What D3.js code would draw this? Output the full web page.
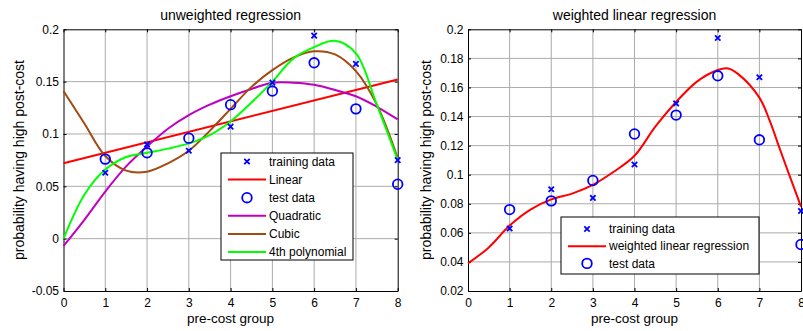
<!DOCTYPE html>
<html>
<head>
<meta charset="utf-8">
<script src="https://cdn.jsdelivr.net/npm/d3@7"></script>
<style>
  body { margin: 0; background: #fff; }
  text { font-family: "Liberation Sans", Arial, sans-serif; fill: #000; }
</style>
</head>
<body>
<svg id="chart" width="803" height="331"></svg>
<script>
// observed probabilities per pre-cost group
const groups = [1, 2, 3, 4, 5, 6, 7, 8];
const trainY = [0.063, 0.090, 0.084, 0.107, 0.149, 0.194, 0.167, 0.075];
const testY  = [0.076, 0.082, 0.096, 0.128, 0.141, 0.168, 0.124, 0.052];

// fitted curves
const fitX   = [0, 0.5, 1, 1.5, 2, 2.5, 3, 3.5, 4, 4.5, 5, 5.5, 6, 6.5, 7, 7.5, 8];
const linX   = [0, 8];
const linY   = [0.072, 0.152];
const quadY  = [-0.007, 0.018, 0.045, 0.069, 0.088, 0.105, 0.118, 0.128, 0.136, 0.143, 0.149, 0.149, 0.147, 0.142, 0.136, 0.126, 0.114];
const cubicY = [0.141, 0.110, 0.079, 0.065, 0.064, 0.072, 0.084, 0.103, 0.124, 0.145, 0.161, 0.173, 0.179, 0.176, 0.160, 0.128, 0.077];
const quartY = [0.000, 0.042, 0.066, 0.078, 0.082, 0.086, 0.091, 0.099, 0.112, 0.130, 0.150, 0.172, 0.183, 0.189, 0.177, 0.128, 0.075];

// weighted linear regression curve (right panel)
const wX = [0, 0.5, 1, 1.5, 2, 2.5, 3, 3.5, 4, 4.5, 5, 5.5, 6, 6.25, 6.5, 7, 7.25, 7.5, 8];
const wY = [0.039, 0.050, 0.065, 0.076, 0.083, 0.087, 0.093, 0.102, 0.113, 0.133, 0.150, 0.164, 0.172, 0.173, 0.169, 0.153, 0.137, 0.117, 0.078];

// ticks
const xTicks = [0, 1, 2, 3, 4, 5, 6, 7, 8];
const yTicksL = [-0.05, 0, 0.05, 0.1, 0.15, 0.2];
const yTicksR = [0.02, 0.04, 0.06, 0.08, 0.1, 0.12, 0.14, 0.16, 0.18, 0.2];

const BLUE = "#0000ff";
const plotTop = 29.3, plotBottom = 291;
const svg = d3.select("#chart");
const fmt = d => String(+d.toFixed(2));

function drawPanel(o) {
  const g = svg.append("g");
  const x = d3.scaleLinear().domain([0, 8]).range([o.left, o.right]);
  const y = d3.scaleLinear().domain([o.yTicks[0], o.yTicks[o.yTicks.length - 1]]).range([plotBottom, plotTop]);

  // grid
  g.append("g").selectAll("line").data(xTicks.slice(1, -1)).enter().append("line")
    .attr("x1", d => x(d)).attr("x2", d => x(d)).attr("y1", plotTop).attr("y2", plotBottom)
    .attr("stroke", "#ababab").attr("stroke-width", 1);
  g.append("g").selectAll("line").data(o.yTicks.slice(1, -1)).enter().append("line")
    .attr("x1", o.left).attr("x2", o.right).attr("y1", d => y(d)).attr("y2", d => y(d))
    .attr("stroke", "#ababab").attr("stroke-width", 1);

  // axes (inner ticks on all four sides)
  const ax = [
    g.append("g").attr("transform", `translate(0,${plotBottom})`)
      .call(d3.axisBottom(x).tickValues(xTicks).tickSize(-3).tickSizeOuter(0).tickPadding(7).tickFormat(d3.format("d"))),
    g.append("g").attr("transform", `translate(0,${plotTop})`)
      .call(d3.axisTop(x).tickValues(xTicks).tickSize(-3).tickSizeOuter(0).tickFormat("")),
    g.append("g").attr("transform", `translate(${o.left},0)`)
      .call(d3.axisLeft(y).tickValues(o.yTicks).tickSize(-3).tickSizeOuter(0).tickPadding(4.5).tickFormat(fmt)),
    g.append("g").attr("transform", `translate(${o.right},0)`)
      .call(d3.axisRight(y).tickValues(o.yTicks).tickSize(-3).tickSizeOuter(0).tickFormat(""))
  ];
  ax.forEach(a => {
    a.attr("font-size", 12).attr("font-family", null);
    a.selectAll("path, line").attr("stroke", "#000");
  });

  // fitted curves
  o.curves.forEach(c => {
    const line = d3.line().x((d, i) => x(c.xs[i])).y(d => y(d)).curve(d3.curveCatmullRom);
    g.append("path").datum(c.ys).attr("d", line)
      .attr("fill", "none").attr("stroke", c.color).attr("stroke-width", 2);
  });

  // training data (x marks)
  g.append("g").selectAll("path").data(trainY).enter().append("path")
    .attr("transform", (d, i) => `translate(${x(groups[i])},${y(d)})`)
    .attr("d", "M-2.7,-2.7L2.7,2.7M-2.7,2.7L2.7,-2.7")
    .attr("stroke", BLUE).attr("stroke-width", 1.8);

  // test data (circles)
  g.append("g").selectAll("circle").data(testY).enter().append("circle")
    .attr("cx", (d, i) => x(groups[i])).attr("cy", d => y(d)).attr("r", 4.8)
    .attr("fill", "none").attr("stroke", BLUE).attr("stroke-width", 1.8);

  // title and labels
  const cx = (o.left + o.right) / 2;
  g.append("text").attr("x", cx).attr("y", 19.5).attr("text-anchor", "middle")
    .attr("font-size", 14).text(o.title);
  g.append("text").attr("x", cx).attr("y", 323).attr("text-anchor", "middle")
    .attr("font-size", 13.5).text("pre-cost group");
  g.append("text").attr("transform", `translate(${o.ylabX},160) rotate(-90)`)
    .attr("text-anchor", "middle").attr("font-size", 14).text("probability having high post-cost");

  // legend
  const L = o.legend;
  const lg = g.append("g").attr("transform", `translate(${L.x},${L.y})`);
  lg.append("rect").attr("width", L.w).attr("height", L.h)
    .attr("fill", "#fff").attr("stroke", "#000").attr("stroke-width", 1);
  L.items.forEach((it, i) => {
    const ry = L.row0 + i * L.step;
    if (it.type === "x") {
      lg.append("path").attr("transform", `translate(26,${ry})`)
        .attr("d", "M-2.7,-2.7L2.7,2.7M-2.7,2.7L2.7,-2.7")
        .attr("stroke", BLUE).attr("stroke-width", 1.8);
    } else if (it.type === "o") {
      lg.append("circle").attr("cx", 26).attr("cy", ry).attr("r", 4.8)
        .attr("fill", "none").attr("stroke", BLUE).attr("stroke-width", 1.8);
    } else {
      lg.append("line").attr("x1", 7).attr("x2", 45).attr("y1", ry).attr("y2", ry)
        .attr("stroke", it.color).attr("stroke-width", 2);
    }
    lg.append("text").attr("x", 48).attr("y", ry).attr("dy", "0.35em")
      .attr("font-size", 12).text(it.label);
  });
}

drawPanel({
  left: 63.5, right: 397.7, yTicks: yTicksL, ylabX: 24,
  title: "unweighted regression",
  curves: [
    { xs: linX, ys: linY, color: "#ff0000" },
    { xs: fitX, ys: quadY, color: "#bf00bf" },
    { xs: fitX, ys: cubicY, color: "#a34a12" },
    { xs: fitX, ys: quartY, color: "#00ff00" }
  ],
  legend: {
    x: 221, y: 153, w: 132, h: 107, row0: 8.5, step: 18.1,
    items: [
      { type: "x", label: "training data" },
      { type: "line", color: "#ff0000", label: "Linear" },
      { type: "o", label: "test data" },
      { type: "line", color: "#bf00bf", label: "Quadratic" },
      { type: "line", color: "#a34a12", label: "Cubic" },
      { type: "line", color: "#00ff00", label: "4th polynomial" }
    ]
  }
});

drawPanel({
  left: 468, right: 801, yTicks: yTicksR, ylabX: 431,
  title: "weighted linear regression",
  curves: [
    { xs: wX, ys: wY, color: "#ff0000" }
  ],
  legend: {
    x: 561, y: 217, w: 198, h: 57, row0: 12, step: 17.2,
    items: [
      { type: "x", label: "training data" },
      { type: "line", color: "#ff0000", label: "weighted linear regression" },
      { type: "o", label: "test data" }
    ]
  }
});
</script>
</body>
</html>
